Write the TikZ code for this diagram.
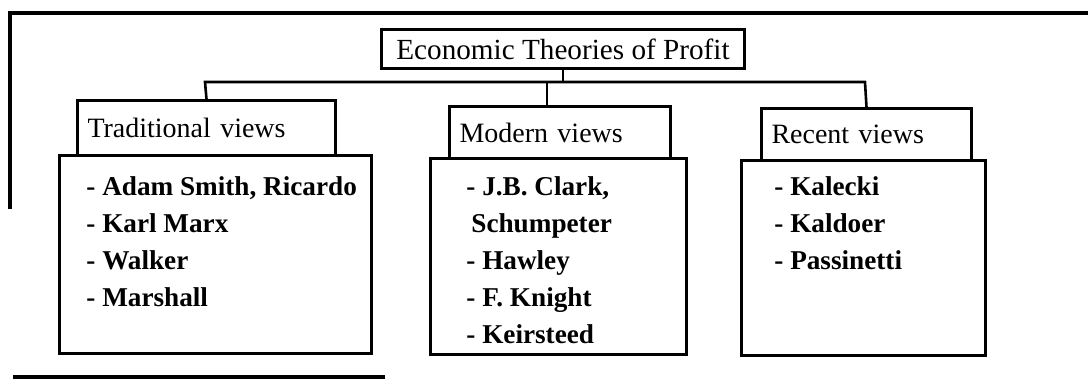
\documentclass[tikz,border=0pt]{standalone}
\usepackage{fontspec}
\setmainfont{Liberation Serif}
\usepackage{tikz}
\usetikzlibrary{positioning, calc}

\tikzset{
  box/.style={draw, line width=1.5pt, inner sep=0pt, anchor=north west},
  headbox/.style={box, inner xsep=5pt, align=left,
    font=\fontsize{14}{16}\selectfont},
  listtext/.style={anchor=north west, inner sep=0pt, align=left,
    font=\fontsize{13.6}{18.5}\selectfont\bfseries},
  link/.style={line width=1.3pt},
  frame/.style={line width=1.6pt}
}

\begin{document}
\begin{tikzpicture}[x=0.5pt, y=-0.5pt]
  \useasboundingbox (0,0) rectangle (1088,380);
  % Rahmen
  \draw[frame] (1088,13) -- (10,13) -- (10,209);
  \draw[frame] (13,377) -- (385,377);
  % Titel
  \node[box, minimum width=181.5pt, minimum height=19.5pt,
    font=\fontsize{14.6}{16}\selectfont] (title) at (380,28) {Economic Theories of Profit};
  % Kopfzeilen
  \node[headbox, text width=119pt, minimum height=27.5pt] (tradhead) at (76,99) {Traditional views};
  \node[headbox, text width=100.5pt, minimum height=26pt] (modhead) at (448,105) {Modern views};
  \node[headbox, text width=95pt, minimum height=26pt] (rechead) at (760,107) {Recent views};
  % Kaesten
  \node[box, minimum width=156pt, minimum height=99pt] (tradbody) at (58,154) {};
  \node[box, minimum width=128pt, minimum height=98pt] (modbody) at (429,157) {};
  \node[box, minimum width=122pt, minimum height=97.5pt] (recbody) at (740,159) {};
  % Listen
  \node[listtext] (tradlist) at (86,176)
    {- Adam Smith, Ricardo\\- Karl Marx\\- Walker\\- Marshall};
  \node[listtext] (modlist) at (466,176)
    {- J.B. Clark,\\\hspace*{2.5pt}Schumpeter\\- Hawley\\- F. Knight\\- Keirsteed};
  \node[listtext] (reclist) at (774,176)
    {- Kalecki\\- Kaldoer\\- Passinetti};
  % Verbindungen
  \coordinate (busL) at (205,82);
  \coordinate (busR) at (865,82);
  \coordinate (midtap) at (547,82);
  \draw[link] (title.south) -- (title.south |- busL);
  \draw[link] (tradhead.north) -- (busL) -- (busR) -- (rechead.north);
  \draw[link] (midtap) -- (midtap |- modhead.north);
\end{tikzpicture}
\end{document}
